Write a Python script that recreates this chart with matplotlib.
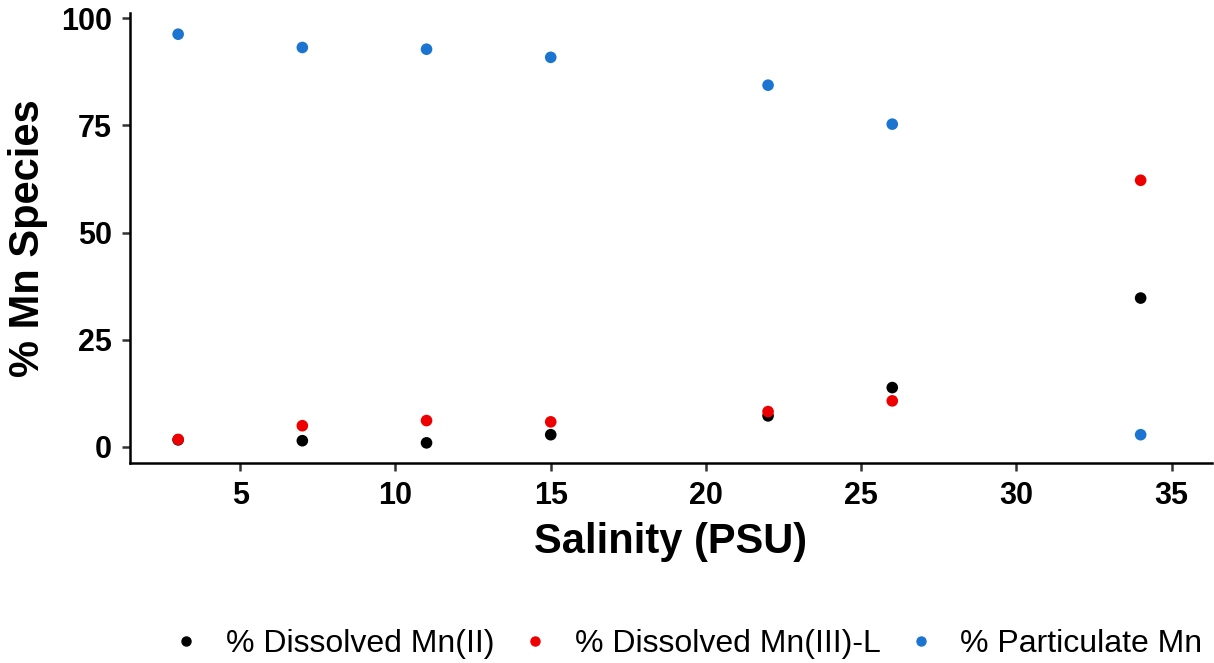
import matplotlib
matplotlib.use('Agg')
import matplotlib.pyplot as plt
from matplotlib.lines import Line2D

plt.rcParams['font.family'] = ['Liberation Sans', 'DejaVu Sans']

# data
salinity = [3, 7, 11, 15, 22, 26, 34]
mn_ii = [1.6, 1.4, 0.9, 2.8, 7.2, 13.8, 34.7]
mn_iii_l = [1.7, 4.9, 6.1, 5.8, 8.2, 10.7, 62.2]
mn_part = [96.3, 93.2, 92.8, 90.9, 84.4, 75.3, 2.8]

labels = ['% Dissolved Mn(II)', '% Dissolved Mn(III)-L', '% Particulate Mn']
colors = ['#000000', '#EE0000', '#1B75D0']

fig = plt.figure(figsize=(12.14, 6.63), dpi=100)
ax = fig.add_axes([0.1071, 0.3017, 0.8913, 0.6787])

for ys, c in zip([mn_ii, mn_iii_l, mn_part], colors):
    ax.scatter(salinity, ys, s=70, color=c, edgecolors='none', zorder=3)

ax.set_xlim(1.45, 36.3)
ax.set_ylim(-3.8, 101.25)
ax.set_xticks([5, 10, 15, 20, 25, 30, 35])
ax.set_yticks([0, 25, 50, 75, 100])

for s in ['top', 'right']:
    ax.spines[s].set_visible(False)
for s in ['left', 'bottom']:
    ax.spines[s].set_linewidth(1.8)
    ax.spines[s].set_color('black')

ax.tick_params(axis='both', length=6, width=1.8, color='#333333',
               labelsize=22, pad=7)
for lab in ax.get_xticklabels() + ax.get_yticklabels():
    lab.set_fontweight('bold')

ax.set_xlabel('Salinity (PSU)', fontsize=30, fontweight='bold', labelpad=8)
ax.set_ylabel('% Mn Species', fontsize=30, fontweight='bold', labelpad=9)

handles = [Line2D([], [], marker='o', linestyle='none', color=c, markersize=6.5)
           for c in colors]
fig.legend(handles, labels, loc='center', bbox_to_anchor=(0.5655, 0.029),
           ncol=3, frameon=False, fontsize=23, handlelength=1.0,
           handletextpad=0.75, columnspacing=0.75, borderpad=0,
           borderaxespad=0)

fig.savefig('out.png', dpi=100)
